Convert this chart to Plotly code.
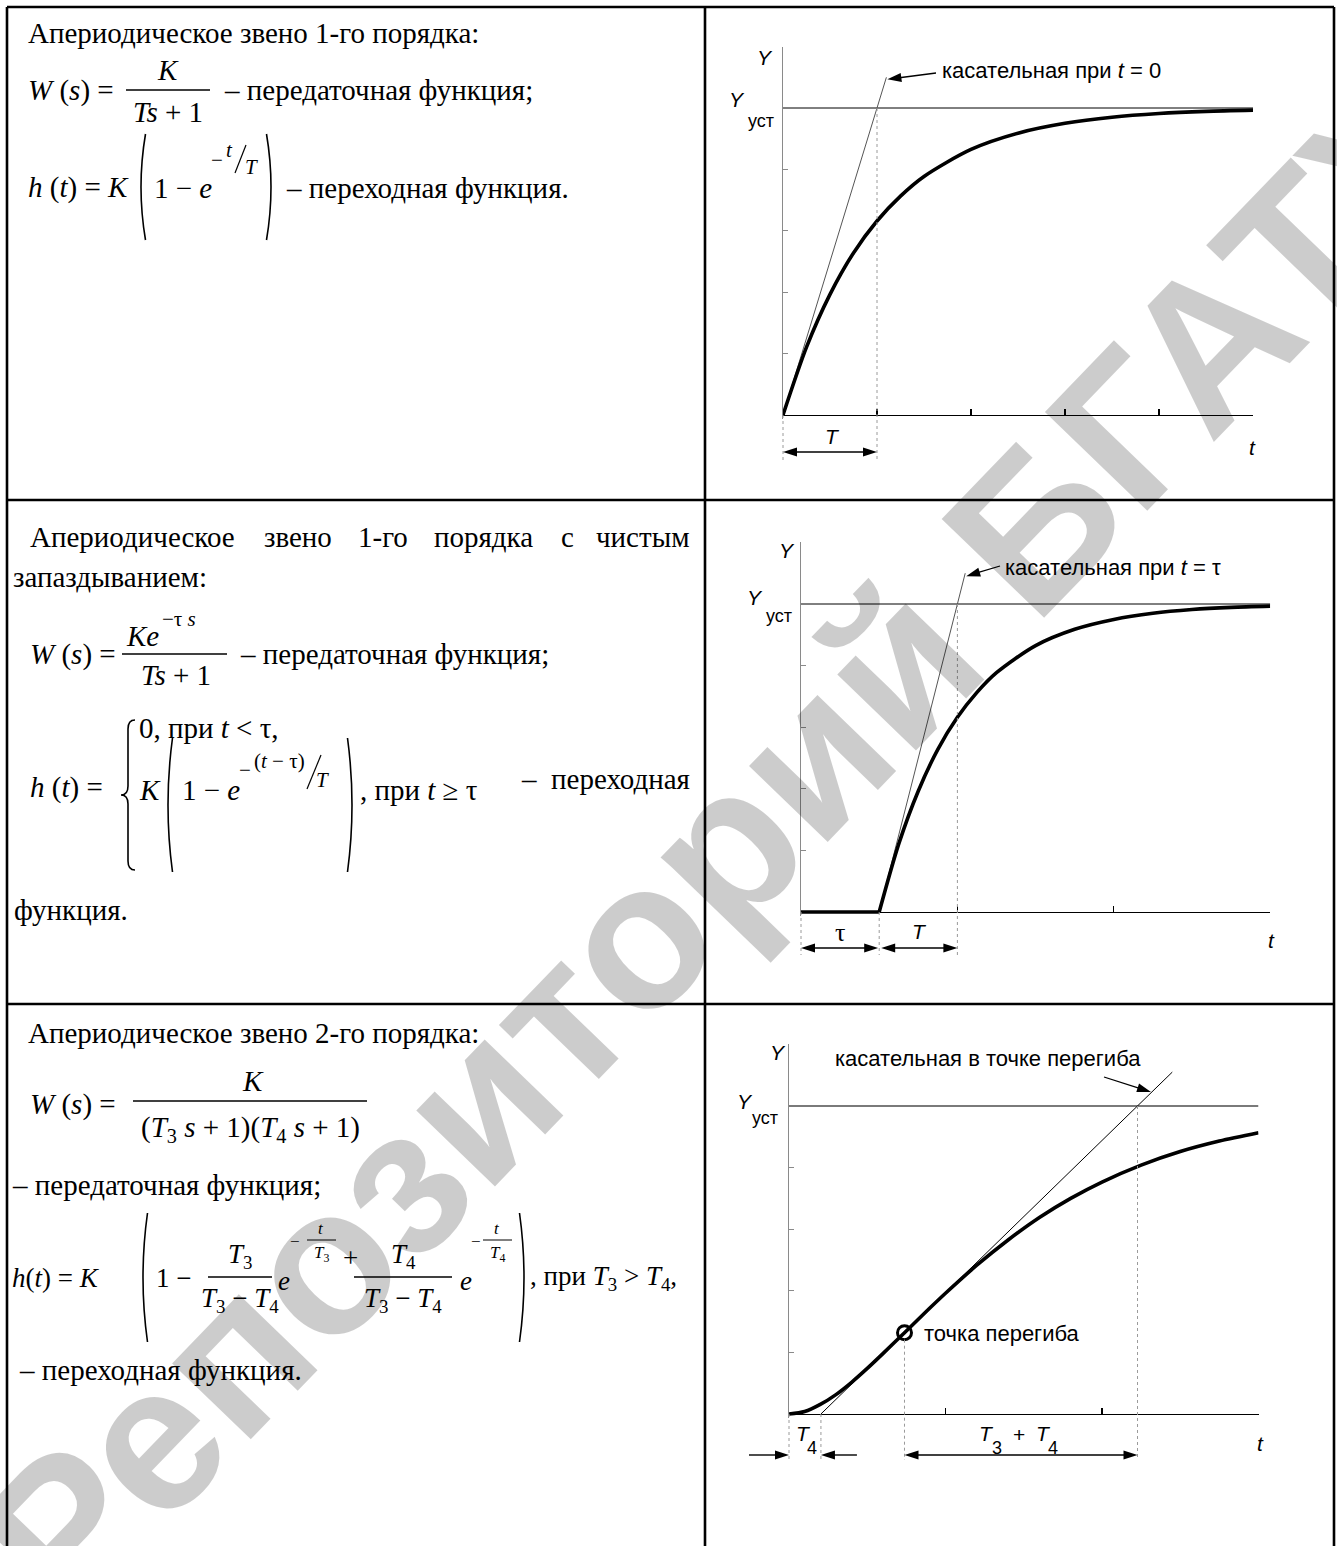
import math
import plotly.graph_objects as go

W, H = 1337, 1546
SERIF = "Liberation Serif"
SANS = "Liberation Sans"
BODY = 29

# ---------------- data ----------------
# 1st-order lag, time in units of T
t1 = [0, 0.25, 0.5, 0.75, 1, 1.25, 1.5, 2, 2.5, 3, 3.5, 4, 4.5, 5]
h1 = [0, 0.221, 0.393, 0.528, 0.632, 0.713, 0.777, 0.865, 0.918, 0.950, 0.970, 0.982, 0.989, 0.993]
tan1_t = [0, 1.1]
tan1_h = [0, 1.1]
T1 = 1.0

# 1st-order lag with dead time
tau2 = 1.0
T2 = 1.0
t2_dead = [0, 1]
h2_dead = [0, 0]
t2 = [1, 1.25, 1.5, 1.75, 2, 2.25, 2.5, 3, 3.5, 4, 4.5, 5, 5.5, 6]
h2 = [0, 0.221, 0.393, 0.528, 0.632, 0.713, 0.777, 0.865, 0.918, 0.950, 0.970, 0.982, 0.989, 0.993]
tan2_t = [1, 2.1]
tan2_h = [0, 1.1]

# 2nd-order lag
t3 = [0, 0.1, 0.2, 0.3, 0.4, 0.5, 0.6, 0.738, 0.9, 1.0, 1.2, 1.4, 1.6, 1.8, 2.0, 2.25, 2.5, 2.75, 3.0]
h3 = [0, 0.008, 0.031, 0.063, 0.103, 0.148, 0.196, 0.264, 0.344, 0.392, 0.483, 0.565, 0.638,
      0.700, 0.753, 0.808, 0.852, 0.886, 0.913]
infl_t = [0.738]
infl_h = [0.264]
tan3_t = [0.204, 2.449]
tan3_h = [0, 1.11]
T4_mark = 0.204
T34_mark = 2.227

x_ticks = [[1, 2, 3, 4, 5], [2, 4, 6], [1, 2, 3]]
y_ticks = [0.2, 0.4, 0.6, 0.8]
Y_SET = 1.0

# ---------------- geometry helpers ----------------
charts = [
    dict(x0=783, xu=94.0, xmax=5, y0=415, yu=307.0, ymax=1.2),
    dict(x0=801, xu=78.2, xmax=6, y0=912, yu=308.0, ymax=1.2),
    dict(x0=789, xu=156.5, xmax=3, y0=1414, yu=308.0, ymax=1.2),
]
YPAD = 0.012


def px(x):
    return x / W


def py(y):
    return 1 - y / H


def fx(c, t):
    return c["x0"] + t * c["xu"]


def fy(c, h):
    return c["y0"] - h * c["yu"]


ann = []
shapes = []


def text(x, y, s, size=BODY, anchor="left", family=SERIF, color="black", angle=0,
         style="normal", weight="normal"):
    ann.append(dict(x=px(x), y=py(y), xref="paper", yref="paper", text=s, showarrow=False,
                    xanchor=anchor, yanchor="middle", textangle=angle,
                    font=dict(family=family, size=size, color=color, style=style, weight=weight)))


def itext(x, y, s, **kw):
    text(x, y, s, style="italic", **kw)


def seg(x0, y0, x1, y1, color="black", width=1.0, dash=None):
    ln = dict(color=color, width=width)
    if dash:
        ln["dash"] = dash
    shapes.append(dict(type="line", xref="paper", yref="paper", layer="above",
                       x0=px(x0), y0=py(y0), x1=px(x1), y1=py(y1), line=ln))


def P(x, y):
    return f"{px(x):.6f},{py(y):.6f}"


def head(tx, ty, dx, dy, L=14, hw=4.5):
    n = math.hypot(dx, dy)
    ux, uy = dx / n, dy / n
    bx, by = tx - ux * L, ty - uy * L
    nx, ny = -uy, ux
    p = f"M {P(tx, ty)} L {P(bx + nx * hw, by + ny * hw)} L {P(bx - nx * hw, by - ny * hw)} Z"
    shapes.append(dict(type="path", xref="paper", yref="paper", layer="above", path=p,
                       fillcolor="black", line=dict(width=0)))


def arrow(x0, y0, x1, y1, width=1.3, L=14, hw=4.5):
    # line from (x0,y0) with a head at (x1,y1)
    n = math.hypot(x1 - x0, y1 - y0)
    bx = x1 - (x1 - x0) / n * (L - 2)
    by = y1 - (y1 - y0) / n * (L - 2)
    seg(x0, y0, bx, by, width=width)
    head(x1, y1, x1 - x0, y1 - y0, L, hw)


def dim(xa, xb, y):
    seg(xa + 10, y, xb - 10, y, width=1.6)
    head(xa, y, -1, 0)
    head(xb, y, 1, 0)


def paren(x, ytop, ybot, left=True, w=9, width=1.6):
    ym = (ytop + ybot) / 2
    if left:
        p = f"M {P(x + w / 2, ytop)} Q {P(x - w / 2, ym)} {P(x + w / 2, ybot)}"
    else:
        p = f"M {P(x - w / 2, ytop)} Q {P(x + w / 2, ym)} {P(x - w / 2, ybot)}"
    shapes.append(dict(type="path", xref="paper", yref="paper", layer="above", path=p,
                       line=dict(color="black", width=width)))


def brace(x, ytop, ybot, w=7, width=1.6):
    ym = (ytop + ybot) / 2
    r = 9
    p = (f"M {P(x + w, ytop)} Q {P(x, ytop)} {P(x, ytop + r)} L {P(x, ym - r)} "
         f"Q {P(x, ym)} {P(x - w, ym)} Q {P(x, ym)} {P(x, ym + r)} L {P(x, ybot - r)} "
         f"Q {P(x, ybot)} {P(x + w, ybot)}")
    shapes.append(dict(type="path", xref="paper", yref="paper", layer="above", path=p,
                       line=dict(color="black", width=width)))


# ---------------- watermark (drawn first, semi-transparent) ----------------
text(726, 845, "Репозиторий БГАТУ", size=207, anchor="center", family=SANS,
     color="rgba(0,0,0,0.2)", angle=-46, weight="bold")

# ---------------- table grid ----------------
GW = 2.6
seg(7, 7, 1334, 7, width=GW)
seg(7, 7, 7, H + 5, width=GW)
seg(1334, 7, 1334, H + 5, width=GW)
seg(705, 7, 705, H + 5, width=GW)
seg(7, 500, 1334, 500, width=GW)
seg(7, 1004, 1334, 1004, width=GW)

# ---------------- row 1 text ----------------
text(26, 33, "Апериодическое звено 1-го порядка:")
text(26, 90, "<i>W</i> (<i>s</i>) =")
itext(168, 70, "K", anchor="center")
seg(126, 90, 210, 90, width=1.5)
text(168, 112, "<i>Ts</i> + 1", anchor="center")
text(222, 90, "– передаточная функция;")

text(26, 188, "<i>h</i> (<i>t</i>) = <i>K</i>")
paren(141, 134, 240, left=True)
text(152, 188, "1 − <i>e</i>")
text(209, 160, "−", size=21)
itext(224, 150, "t", size=21)
seg(246, 145, 235, 173, width=1.2)
itext(243, 167, "T", size=21)
paren(271, 134, 240, left=False)
text(284, 188, "– переходная функция.")

# ---------------- row 2 text ----------------
text(28, 537, "Апериодическое")
text(262, 537, "звено")
text(356, 537, "1-го")
text(432, 537, "порядка")
text(559, 537, "с")
text(692, 537, "чистым", anchor="right")
text(11, 577, "запаздыванием:")

text(28, 654, "<i>W</i> (<i>s</i>) =")
itext(124, 636, "Ke")
text(160, 619, "−τ <i>s</i>", size=21)
seg(122, 654, 227, 654, width=1.5)
text(176, 675, "<i>Ts</i> + 1", anchor="center")
text(238, 654, "– передаточная функция;")

text(28, 787, "<i>h</i> (<i>t</i>) =")
brace(128, 720, 870)
text(137, 728, "0, при <i>t</i> < τ,")
itext(137, 790, "K")
paren(168, 738, 872, left=True)
text(180, 790, "1 − <i>e</i>")
text(237, 770, "−", size=21)
text(252, 761, "(<i>t</i> − τ)", size=21)
seg(321, 755, 307, 789, width=1.2)
itext(314, 780, "T", size=21)
paren(352, 738, 872, left=False)
text(358, 790, ", при <i>t</i> ≥ τ")
text(692, 779, "–  переходная", anchor="right")
text(12, 910, "функция.")

# ---------------- row 3 text ----------------
text(26, 1033, "Апериодическое звено 2-го порядка:")
text(28, 1104, "<i>W</i> (<i>s</i>) =")
itext(253, 1081, "K", anchor="center")
seg(133, 1101, 367, 1101, width=1.5)
text(250, 1129, "(<i>T</i><sub>3</sub> <i>s</i> + 1)(<i>T</i><sub>4</sub> <i>s</i> + 1)", anchor="center")
text(10, 1185, "– передаточная функция;")

HF = 27
text(10, 1278, "<i>h</i>(<i>t</i>) = <i>K</i>", size=HF)
paren(143, 1213, 1342, left=True)
text(154, 1278, "1 −", size=HF)
seg(208, 1277, 272, 1277, width=1.3)
text(240, 1256, "<i>T</i><sub>3</sub>", size=HF, anchor="center")
text(240, 1300, "<i>T</i><sub>3</sub> − <i>T</i><sub>4</sub>", size=HF, anchor="center")
itext(276, 1281, "e", size=HF)
text(288, 1241, "−", size=17)
itext(321, 1228, "t", size=17, anchor="center")
seg(307, 1240, 336, 1240, width=1.0)
text(321, 1254, "<i>T</i><sub>3</sub>", size=17, anchor="center")
text(350, 1258, "+", size=HF, anchor="center")
seg(354, 1277, 452, 1277, width=1.3)
text(403, 1256, "<i>T</i><sub>4</sub>", size=HF, anchor="center")
text(403, 1300, "<i>T</i><sub>3</sub> − <i>T</i><sub>4</sub>", size=HF, anchor="center")
itext(458, 1281, "e", size=HF)
text(469, 1241, "−", size=17)
itext(497, 1228, "t", size=17, anchor="center")
seg(483, 1240, 512, 1240, width=1.0)
text(497, 1254, "<i>T</i><sub>4</sub>", size=17, anchor="center")
paren(524, 1213, 1342, left=False)
text(528, 1278, ", при <i>T</i><sub>3</sub> > <i>T</i><sub>4</sub>,", size=HF)
text(17, 1370, "– переходная функция.")

# ---------------- charts ----------------
fig = go.Figure()
layout_axes = {}
for i, c in enumerate(charts, 1):
    xs = "" if i == 1 else str(i)
    ydom = [py(fy(c, -YPAD)), py(fy(c, c["ymax"]))]
    layout_axes[f"xaxis{xs}"] = dict(
        domain=[px(c["x0"]), px(fx(c, c["xmax"]))], range=[0, c["xmax"]],
        anchor="free", position=py(c["y0"]), showline=True, linecolor="black", linewidth=1.2,
        ticks="inside", ticklen=6, tickwidth=1.2, tickcolor="black", tickvals=x_ticks[i - 1],
        showticklabels=False, showgrid=False, zeroline=False, fixedrange=True)
    layout_axes[f"yaxis{xs}"] = dict(
        domain=ydom, range=[-YPAD, c["ymax"]], anchor=f"x{xs}",
        showline=True, linecolor="#8a8a8a", linewidth=1.2,
        ticks="inside", ticklen=5, tickwidth=1, tickcolor="#8a8a8a", tickvals=y_ticks,
        showticklabels=False, showgrid=False, zeroline=False, fixedrange=True)


def add(i, x, y, **kw):
    xs = "" if i == 1 else str(i)
    fig.add_trace(go.Scatter(x=x, y=y, xaxis=f"x{xs}", yaxis=f"y{xs}", showlegend=False,
                             hoverinfo="skip", **kw))


thin = dict(color="#555555", width=1)
thick = dict(color="black", width=3.6)

# chart 1
c = charts[0]
add(1, [0, c["xmax"]], [Y_SET, Y_SET], mode="lines", line=dict(color="black", width=1))
add(1, tan1_t, tan1_h, mode="lines", line=thin)
add(1, t1, h1, mode="lines", line=dict(thick, shape="spline", smoothing=0.8))

# chart 2
c = charts[1]
add(2, [0, c["xmax"]], [Y_SET, Y_SET], mode="lines", line=dict(color="black", width=1))
add(2, tan2_t, tan2_h, mode="lines", line=thin)
add(2, t2_dead, h2_dead, mode="lines", line=thick)
add(2, t2, h2, mode="lines", line=dict(thick, shape="spline", smoothing=0.8))

# chart 3
c = charts[2]
add(3, [0, c["xmax"]], [Y_SET, Y_SET], mode="lines", line=dict(color="#7a7a7a", width=2))
add(3, tan3_t, tan3_h, mode="lines", line=dict(color="black", width=1))
add(3, t3, h3, mode="lines", line=dict(thick, shape="spline", smoothing=0.8))
add(3, infl_t, infl_h, mode="markers", cliponaxis=False,
    marker=dict(symbol="circle-open", size=14, color="black", line=dict(width=3, color="black")))

DOT = dict(color="#9a9a9a", width=1, dash="dot")
LBL = dict(size=21, family=SANS, anchor="center")

# chart 1 guides and labels
c = charts[0]
xa, xt = fx(c, 0), fx(c, T1)
seg(xa, c["y0"], xa, 462, **DOT)
seg(xt, fy(c, Y_SET), xt, 462, **DOT)
dim(xa, xt, 452)
itext((xa + xt) / 2 + 2, 436, "T", **LBL)
itext(fx(c, c["xmax"]) - 1, 447, "t", **LBL)
itext(c["x0"] - 18, 57, "Y", **LBL)
itext(c["x0"] - 46, fy(c, Y_SET) - 8, "Y", **LBL)
text(c["x0"] - 7, fy(c, Y_SET) + 13, "уст", size=18, family=SANS, anchor="right")
text(940, 70, "касательная при <i>t</i> = 0", size=22, family=SANS)
arrow(936, 73, fx(c, tan1_t[1]) + 1, fy(c, tan1_h[1]) + 2)

# chart 2 guides and labels
c = charts[1]
xa, xb, xc = fx(c, 0), fx(c, tau2), fx(c, tau2 + T2)
seg(xa, c["y0"], xa, 955, **DOT)
seg(xb, c["y0"], xb, 955, **DOT)
seg(xc, fy(c, Y_SET), xc, 955, **DOT)
dim(xa, xb - 1, 948)
dim(xb + 2, xc, 948)
text((xa + xb) / 2, 932, "τ", size=26, family=SERIF, anchor="center")
itext((xb + xc) / 2 + 1, 931, "T", **LBL)
itext(fx(c, c["xmax"]) + 1, 940, "t", **LBL)
itext(c["x0"] - 14, 550, "Y", **LBL)
itext(c["x0"] - 46, fy(c, Y_SET) - 7, "Y", **LBL)
text(c["x0"] - 7, fy(c, Y_SET) + 12, "уст", size=18, family=SANS, anchor="right")
text(1003, 567, "касательная при <i>t</i> = τ", size=22, family=SANS)
arrow(1000, 566, fx(c, tan2_t[1]) + 1, fy(c, tan2_h[1]) + 3)

# chart 3 guides and labels
c = charts[2]
xa, x4, xi, xe = fx(c, 0), fx(c, T4_mark), fx(c, infl_t[0]), fx(c, T34_mark)
seg(xa, c["y0"], xa, 1460, **DOT)
seg(x4, c["y0"], x4, 1460, **DOT)
seg(xi, fy(c, infl_h[0]) + 7, xi, 1460, **DOT)
seg(xe, fy(c, Y_SET), xe, 1460, **DOT)
arrow(xa - 40, 1455, xa, 1455, width=1.4)
arrow(x4 + 36, 1455, x4, 1455, width=1.4)
dim(xi, xe, 1455)
itext(xa + 14, 1433, "T", **LBL)
text(xa + 23, 1448, "4", size=18, family=SANS, anchor="center")
itext(987, 1433, "T", **LBL)
text(997, 1448, "3", size=18, family=SANS, anchor="center")
text(1019, 1434, "+", size=21, family=SANS, anchor="center")
itext(1043, 1433, "T", **LBL)
text(1053, 1448, "4", size=18, family=SANS, anchor="center")
itext(fx(c, c["xmax"]) + 2, 1443, "t", **LBL)
itext(c["x0"] - 11, 1052, "Y", **LBL)
itext(c["x0"] - 44, fy(c, Y_SET) - 5, "Y", **LBL)
text(c["x0"] - 9, fy(c, Y_SET) + 12, "уст", size=18, family=SANS, anchor="right")
text(833, 1058, "касательная в точке перегиба", size=22, family=SANS)
arrow(1104, 1077, 1151, 1092)
text(922, 1333, "точка перегиба", size=22, family=SANS)

fig.update_layout(
    width=W, height=H, margin=dict(l=0, r=0, t=0, b=0),
    paper_bgcolor="white", plot_bgcolor="rgba(0,0,0,0)",
    annotations=ann, shapes=shapes, showlegend=False, **layout_axes)

fig.write_html("out.html", config=dict(displayModeBar=False, staticPlot=True))
